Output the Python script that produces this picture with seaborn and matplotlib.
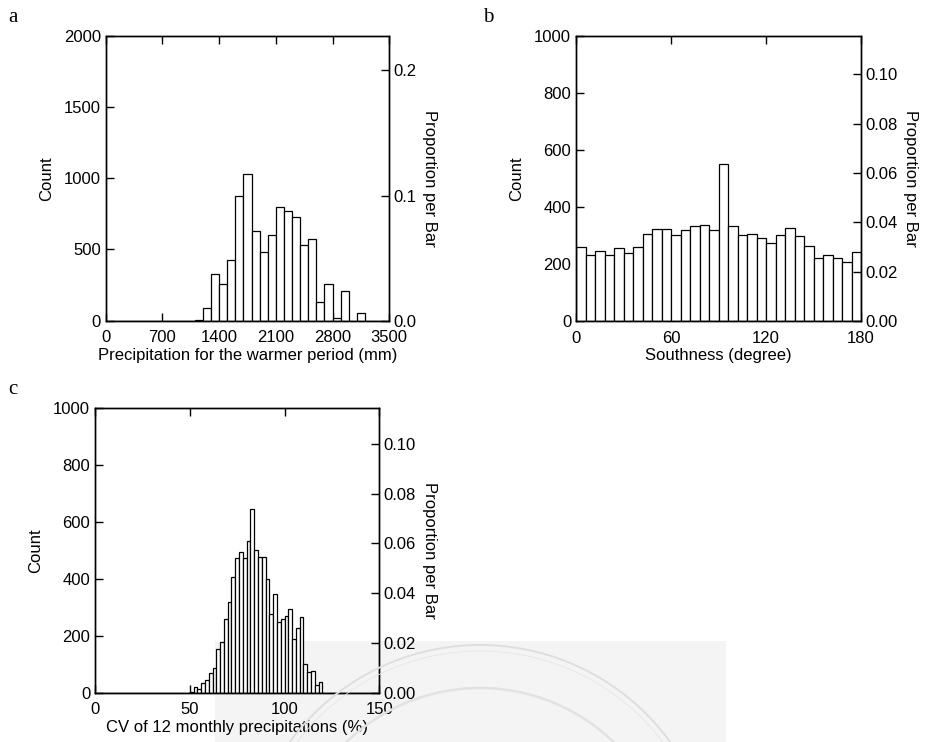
import numpy as np
import pandas as pd
import matplotlib
matplotlib.use("Agg")
import matplotlib.pyplot as plt
import seaborn as sns
from matplotlib.patches import Rectangle, Ellipse

# ---- data -------------------------------------------------------------
# a: precipitation for the warmer period, 100 mm bins (non-empty bins)
precip_bin_width = 100
precip_range = (0, 3500)
precip_bins = [1100, 1200, 1300, 1400, 1500, 1600, 1700, 1800, 1900, 2000,
               2100, 2200, 2300, 2400, 2500, 2600, 2700, 2800, 2900, 3000, 3100]
precip_counts = [7, 89, 325, 255, 426, 873, 1027, 627, 482, 599,
                 800, 767, 725, 529, 576, 134, 255, 19, 211, 0, 56]

# b: southness, 6 degree bins
south_bin_width = 6
south_range = (0, 180)
south_bins = list(range(0, 180, 6))
south_counts = [258, 233, 247, 232, 255, 237, 261, 304, 322, 322,
                301, 318, 332, 338, 318, 551, 334, 303, 304, 290,
                275, 301, 326, 298, 262, 221, 230, 221, 208, 241]

# c: CV of 12 monthly precipitations, 2 % bins (non-empty bins)
cv_bin_width = 2
cv_range = (0, 150)
cv_bins = [50, 52, 54, 56, 58, 60, 62, 64, 66, 68, 70, 72, 74, 76, 78, 80,
           82, 84, 86, 88, 90, 92, 94, 96, 98, 100, 102, 104, 106, 108, 110,
           112, 114, 116, 118]
cv_counts = [4, 20, 13, 34, 43, 70, 86, 152, 180, 258, 318, 406, 474, 495,
             473, 532, 645, 501, 478, 478, 401, 275, 346, 249, 258, 271, 296,
             190, 228, 265, 101, 72, 75, 26, 39]

# ---- style --------------------------------------------------------------
sns.set_theme(style="white")
plt.rcParams["font.family"] = ["Liberation Sans", "DejaVu Sans"]
plt.rcParams["axes.edgecolor"] = "black"
plt.rcParams["axes.linewidth"] = 1.0
plt.rcParams["text.color"] = "black"
plt.rcParams["axes.labelcolor"] = "black"

FS = 12
W, H = 926, 742
fig = plt.figure(figsize=(W / 100, H / 100), dpi=100, facecolor="white")


def px_axes(left, top, right, bottom):
    return fig.add_axes([left / W, 1 - bottom / H, (right - left) / W, (bottom - top) / H])


def full_table(lows, counts, width, span):
    edges = [float(v) for v in np.arange(span[0], span[1] + width, width)]
    lookup = dict(zip(lows, counts))
    lo = edges[:-1]
    df = pd.DataFrame({"center": [v + width / 2 for v in lo],
                       "count": [float(lookup.get(int(v), 0)) for v in lo]})
    return df, edges


def panel(ax, lows, counts, width, span, xticks, yticks, pticks, pfmt, xlabel):
    df, edges = full_table(lows, counts, width, span)
    sns.histplot(data=df, x="center", weights="count", bins=edges, ax=ax,
                 color="white", edgecolor="black", linewidth=0.9, alpha=1)
    ax.set_xlim(span)
    ax.set_ylim(yticks[0], yticks[-1])
    ax.set_xticks(xticks)
    ax.set_yticks(yticks)
    ax.set_xticklabels([str(v) for v in xticks])
    ax.set_yticklabels([str(v) for v in yticks])
    ax.tick_params(axis="both", direction="in", length=6, width=1,
                   labelsize=FS, colors="black")
    ax.tick_params(axis="x", top=True, bottom=True, pad=7)
    ax.tick_params(axis="y", left=True, right=False, pad=3.5)
    ax.set_xlabel(xlabel, fontsize=FS, labelpad=1.5, color="black")
    ax.set_ylabel("Count", fontsize=FS, labelpad=7, color="black")
    ax.set_facecolor("none")
    for s in ax.spines.values():
        s.set_visible(True)
        s.set_color("black")

    n_total = sum(counts)
    ax2 = ax.twinx()
    ax2.set_ylim(yticks[0] / n_total, yticks[-1] / n_total)
    ax2.set_yticks(pticks)
    ax2.set_yticklabels([pfmt.format(v) for v in pticks])
    ax2.tick_params(axis="y", direction="in", length=6, width=1,
                    labelsize=FS, colors="black", pad=3, left=False, right=True)
    ax2.set_ylabel("Proportion per Bar", rotation=270, fontsize=FS,
                   labelpad=15, color="black")
    ax2.grid(False)
    for s in ax2.spines.values():
        s.set_visible(True)
        s.set_color("black")
    return ax2


# light watermark patch under the lower panel
wm = Rectangle((215 / W, 0), (726 - 215) / W, (742 - 641) / H,
               transform=fig.transFigure, facecolor="#f4f4f4", edgecolor="none", zorder=0)
fig.add_artist(wm)
for r, lw, col in [(235, 1.4, "#dedede"), (229, 0.6, "#e6e6e6"), (192, 1.8, "#e2e2e2")]:
    ring = Ellipse((480 / W, 1 - 880 / H), 2 * r / W, 2 * r / H,
                   transform=fig.transFigure, facecolor="none",
                   edgecolor=col, linewidth=lw, zorder=0.5)
    fig.add_artist(ring)
    ring.set_clip_path(wm)

ax_a = px_axes(105.7, 35.7, 389.2, 320.7)
panel(ax_a, precip_bins, precip_counts, precip_bin_width, precip_range,
      [0, 700, 1400, 2100, 2800, 3500], [0, 500, 1000, 1500, 2000],
      [0.0, 0.1, 0.2], "{:.1f}", "Precipitation for the warmer period (mm)")

ax_b = px_axes(576, 35.7, 861, 321)
panel(ax_b, south_bins, south_counts, south_bin_width, south_range,
      [0, 60, 120, 180], [0, 200, 400, 600, 800, 1000],
      [0.00, 0.02, 0.04, 0.06, 0.08, 0.10], "{:.2f}", "Southness (degree)")

ax_c = px_axes(95, 408.3, 379.3, 692.7)
panel(ax_c, cv_bins, cv_counts, cv_bin_width, cv_range,
      [0, 50, 100, 150], [0, 200, 400, 600, 800, 1000],
      [0.00, 0.02, 0.04, 0.06, 0.08, 0.10], "{:.2f}", "CV of 12 monthly precipitations (%)")

letter_font = ["Liberation Serif", "DejaVu Serif"]
fig.text(13 / W, 1 - 18 / H, "a", family=letter_font, fontsize=15, ha="center", va="center")
fig.text(488 / W, 1 - 18 / H, "b", family=letter_font, fontsize=15, ha="center", va="center")
fig.text(13 / W, 1 - 390 / H, "c", family=letter_font, fontsize=15, ha="center", va="center")

fig.savefig("out.png", dpi=100, facecolor="white")
